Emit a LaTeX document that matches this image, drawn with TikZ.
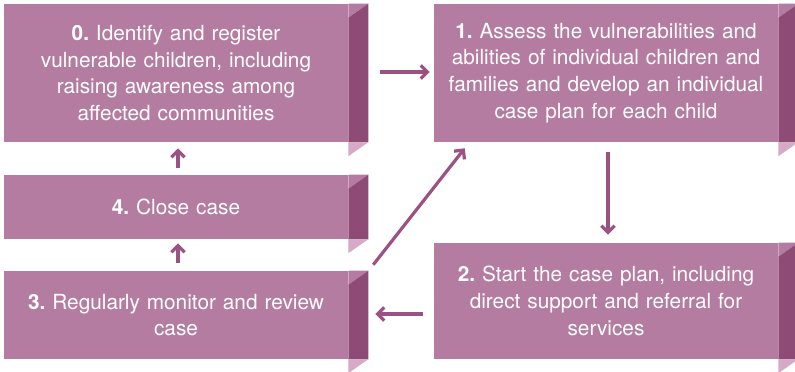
\documentclass[tikz,border=0pt]{standalone}
\usepackage{fontspec}
\setmainfont{TeX Gyre Heros}
\usetikzlibrary{arrows.meta,calc}

\definecolor{boxfill}{RGB}{181,124,161}
\definecolor{paneldark}{RGB}{142,75,118}
\definecolor{panellight}{RGB}{214,170,198}
\definecolor{arrowpurple}{RGB}{155,82,131}

\tikzset{
  stagebox/.style={fill=boxfill, text=white, inner sep=0pt, minimum width=258pt,
    text width=250pt, align=center, font=\fontsize{15.6}{20}\selectfont},
  cyclearrow/.style={draw=arrowpurple, line width=2.4pt, -{Straight Barb[length=5pt,width=10pt]}}
}

% the shaded side panel to the right of a box
\newcommand{\sidepanel}[1]{%
  \fill[boxfill] (#1.north east) -- ($(#1.north east)+(20,0)$) -- ($(#1.north east)+(0,14)$) -- cycle;
  \fill[paneldark] ($(#1.north east)+(0,14)$) -- ($(#1.north east)+(20,0)$) -- ($(#1.south east)+(20,0)$) -- (#1.south east) -- cycle;
  \fill[panellight] (#1.south east) -- ($(#1.south east)+(20,0)$) -- ($(#1.south east)+(0,14)$) -- cycle;
}

\begin{document}
\frenchspacing
\begin{tikzpicture}[x=0.75pt,y=0.75pt,yscale=-1]
\useasboundingbox (0,0) rectangle (795,371);
\clip (0,0) rectangle (795,371);

% Boxes
\node[stagebox, minimum height=103.5pt] (stage0) at (176,73) {\textbf{0.} Identify and register\\vulnerable children, including\\raising awareness among\\affected communities};
\node[stagebox, minimum height=103.5pt] (stage1) at (606,73) {\textbf{1.} Assess the vulnerabilities and\\abilities of individual children and\\families and develop an individual\\case plan for each child};
\node[stagebox, minimum height=87pt] (stage2) at (606,301) {\textbf{2.} Start the case plan, including\\direct support and referral for\\services};
\node[stagebox, minimum height=66pt] (stage3) at (176,315) {\textbf{3.} Regularly monitor and review\\case};
\node[stagebox, minimum height=48pt] (stage4) at (176,207) {\textbf{4.} Close case};

\sidepanel{stage0}
\sidepanel{stage1}
\sidepanel{stage2}
\sidepanel{stage3}
\sidepanel{stage4}

% Arrows
\draw[cyclearrow] ($(stage0.east)+(32,-1)$) -- ($(stage1.west)+(-4,-1)$);
\draw[cyclearrow] ($(stage1.south)+(2,10)$) -- ($(stage2.north)+(2,-8)$);
\draw[cyclearrow] ($(stage2.west |- stage3.east)+(-11,-1)$) -- ($(stage3.east)+(27,-1)$);
\draw[cyclearrow] ($(stage3.north east)+(25,-6)$) -- ($(stage1.south west)+(31,6)$);
\draw[cyclearrow] ($(stage3.north)+(2,-8)$) -- ($(stage4.south)+(2,4)$);
\draw[cyclearrow] ($(stage4.north)+(2,-7)$) -- ($(stage0.south)+(2,6)$);

\end{tikzpicture}
\end{document}
